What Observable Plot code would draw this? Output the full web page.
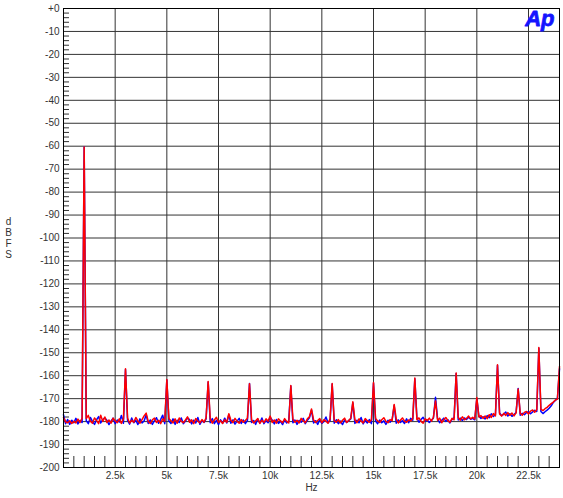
<!DOCTYPE html>
<html>
<head>
<meta charset="utf-8">
<script src="https://cdn.jsdelivr.net/npm/d3@7"></script>
<script src="https://cdn.jsdelivr.net/npm/@observablehq/plot@0.6"></script>
<style>
  html, body { margin: 0; padding: 0; background: #fff; }
</style>
</head>
<body>
<script>
// FFT bin spacing: 100 Hz, 0 … 24 kHz
const binStepHz = 100;
const maxHz = 24000;

// Channel A (blue), dBFS per 100 Hz bin
const blueDb = [
  -177.0,-180.9,-179.1,-181.2,-179.4,-180.5,-178.6,-181.0,-179.5,-180.4,
  -60.4,-179.6,-180.9,-178.2,-179.9,-181.2,-179.2,-177.8,-180.6,-179.1,
  -178.4,-179.4,-181.3,-179.8,-178.5,-180.9,-179.3,-180.2,-177.3,-180.7,
  -157.3,-179.5,-181.1,-178.4,-180.5,-179.4,-181.3,-178.8,-180.6,-179.7,
  -177.0,-180.8,-179.3,-181.2,-179.6,-178.3,-180.7,-179.1,-177.2,-180.9,
  -161.9,-179.7,-180.8,-178.8,-181.2,-179.4,-180.4,-178.4,-180.9,-179.8,
  -178.4,-179.1,-181.0,-179.4,-180.6,-178.2,-181.2,-179.6,-180.4,-178.8,
  -162.8,-180.5,-178.7,-180.9,-179.5,-181.3,-179.2,-180.7,-178.5,-180.6,
  -177.0,-180.7,-179.2,-181.1,-179.8,-178.6,-180.8,-179.3,-180.9,-179.5,
  -163.4,-180.4,-179.5,-181.2,-178.8,-180.6,-178.4,-180.9,-179.6,-180.5,
  -178.1,-179.4,-181.0,-179.1,-180.8,-179.8,-181.3,-179.2,-180.6,-179.6,
  -164.5,-180.5,-179.3,-181.2,-179.5,-180.3,-178.6,-180.9,-179.4,-178.3,
  -175.0,-180.6,-179.6,-181.2,-179.2,-180.8,-179.9,-178.0,-180.5,-179.5,
  -163.6,-180.7,-179.2,-180.9,-179.8,-181.3,-179.3,-180.4,-179.6,-178.8,
  -171.8,-180.8,-179.4,-180.5,-178.2,-181.0,-179.5,-180.6,-179.1,-180.9,
  -163.2,-179.8,-180.9,-179.3,-180.5,-179.7,-181.2,-179.4,-180.3,-179.2,
  -173.0,-180.7,-179.3,-180.4,-179.6,-180.8,-178.8,-180.5,-178.6,-179.4,
  -161.3,-178.5,-180.3,-179.1,-178.1,-179.8,-179.3,-180.4,-179.5,-178.4,
  -169.4,-178.7,-180.5,-179.4,-178.5,-179.9,-179.2,-180.6,-179.0,-178.3,
  -159.0,-179.3,-178.5,-179.5,-178.4,-179.1,-178.1,-179.0,-178.6,-179.2,
  -170.0,-177.7,-178.6,-177.9,-178.8,-177.4,-178.3,-176.6,-177.8,-177.0,
  -155.5,-176.2,-177.4,-176.8,-175.8,-177.6,-176.6,-177.7,-176.9,-176.0,
  -165.6,-177.2,-176.4,-177.0,-176.1,-175.7,-176.6,-175.8,-175.1,-175.6,
  -148.0,-175.6,-176.5,-175.7,-175.0,-174.2,-173.1,-171.6,-170.8,-169.8,
  -157.0
];

// Channel B (red), dBFS per 100 Hz bin
const redDb = [
  -178.3,-180.1,-180.5,-179.6,-180.8,-179.9,-180.6,-178.9,-180.4,-178.5,
  -60.3,-178.7,-177.3,-179.8,-180.7,-178.4,-179.5,-180.9,-177.2,-179.9,
  -178.0,-180.4,-179.3,-180.7,-178.5,-179.6,-180.5,-178.8,-180.8,-178.7,
  -157.0,-178.4,-180.6,-179.4,-180.3,-178.2,-179.7,-180.7,-179.1,-177.5,
  -176.3,-179.9,-180.8,-179.2,-178.5,-180.4,-179.4,-180.9,-178.8,-179.8,
  -161.7,-178.7,-179.6,-180.6,-178.8,-180.7,-178.4,-179.9,-180.5,-179.3,
  -177.9,-180.3,-179.2,-180.9,-178.7,-179.7,-180.6,-179.1,-180.3,-178.4,
  -162.5,-178.8,-180.7,-179.3,-178.1,-180.4,-179.6,-180.8,-179.2,-180.3,
  -176.6,-179.4,-180.5,-178.6,-179.9,-180.7,-179.1,-180.3,-179.5,-178.5,
  -163.5,-179.2,-180.6,-179.6,-178.7,-180.8,-179.4,-180.4,-178.8,-179.8,
  -177.6,-180.4,-179.3,-180.7,-178.8,-179.7,-180.5,-178.7,-179.9,-180.6,
  -164.3,-178.9,-180.3,-179.4,-180.6,-178.6,-179.6,-180.5,-178.8,-177.9,
  -174.5,-179.3,-180.4,-179.5,-178.7,-180.5,-179.2,-179.8,-180.7,-178.8,
  -163.4,-179.6,-180.3,-179.1,-180.6,-179.4,-178.5,-180.4,-179.5,-178.5,
  -171.4,-179.2,-180.5,-178.8,-179.8,-180.6,-178.7,-179.6,-180.3,-179.2,
  -163.0,-178.6,-179.7,-180.4,-179.2,-178.3,-179.9,-180.5,-179.1,-179.6,
  -172.5,-178.8,-180.6,-179.4,-178.4,-179.8,-180.3,-179.3,-179.7,-178.7,
  -161.0,-179.2,-178.4,-179.9,-180.7,-178.8,-179.5,-178.5,-179.8,-178.1,
  -171.0,-179.4,-178.5,-180.5,-179.1,-178.2,-179.6,-180.3,-178.6,-179.2,
  -158.8,-178.3,-179.4,-177.9,-179.2,-178.6,-177.6,-178.8,-178.1,-178.9,
  -169.5,-178.0,-177.4,-178.6,-177.6,-178.7,-177.0,-178.2,-176.5,-177.5,
  -155.2,-176.7,-177.6,-176.4,-177.3,-176.1,-177.2,-176.3,-177.5,-176.2,
  -165.8,-176.4,-177.2,-176.0,-175.6,-176.7,-175.4,-174.9,-175.9,-174.7,
  -147.7,-174.6,-175.2,-174.4,-173.8,-172.9,-172.2,-171.5,-170.6,-170.2,
  -156.0
];

// Axis ticks
const xMajorTicks = [2500, 5000, 7500, 10000, 12500, 15000, 17500, 20000, 22500];
const xTickLabels = ["2.5k", "5k", "7.5k", "10k", "12.5k", "15k", "17.5k", "20k", "22.5k"];
const xMinorTicks = [500,1000,1500,2000,3000,3500,4000,4500,5500,6000,6500,7000,8000,8500,9000,9500,
  10500,11000,11500,12000,13000,13500,14000,14500,15500,16000,16500,17000,18000,18500,19000,19500,
  20500,21000,21500,22000,23000,23500];
const yMajorTicks = [0,-10,-20,-30,-40,-50,-60,-70,-80,-90,-100,-110,-120,-130,-140,-150,-160,-170,-180,-190,-200];
const yMinorTicks = d3.range(-198, 0, 2).filter(v => v % 10 !== 0);

const binHz = blueDb.map((_, i) => i * binStepHz);
const blueData = blueDb.map((db, i) => ({hz: binHz[i], db}));
const redData = redDb.map((db, i) => ({hz: binHz[i], db}));

const W = 563, H = 498;
const mL = 63, mR = 4, mT = 8, mB = 31;
const plotW = W - mL - mR, plotH = H - mT - mB;

const chart = Plot.plot({
  width: W,
  height: H,
  marginLeft: mL,
  marginRight: mR,
  marginTop: mT,
  marginBottom: mB,
  style: {fontFamily: "'Liberation Sans', Arial, sans-serif", fontSize: "10px", color: "#333", background: "#fff"},
  x: {domain: [0, maxHz], axis: null},
  y: {domain: [-200, 0], axis: null},
  marks: [
    Plot.ruleX(xMajorTicks, {stroke: "#333", strokeWidth: 1}),
    Plot.ruleY(yMajorTicks.filter(v => v !== 0 && v !== -200), {stroke: "#333", strokeWidth: 1}),
    Plot.ruleY(yMinorTicks, {stroke: "#333", strokeWidth: 1, insetRight: plotW - 6}),
    Plot.ruleX(xMinorTicks, {stroke: "#333", strokeWidth: 1, insetTop: plotH - 11}),
    Plot.line(blueData, {x: "hz", y: "db", stroke: "#0000ff", strokeWidth: 1.5}),
    Plot.line(redData, {x: "hz", y: "db", stroke: "#ff0000", strokeWidth: 1.5}),
    Plot.frame({stroke: "#000", strokeWidth: 1}),
    Plot.axisY({
      ticks: yMajorTicks,
      tickSize: 0,
      tickPadding: 4,
      tickFormat: d => d === 0 ? "+0" : "-" + Math.abs(d),
      label: null,
      fill: "#333"
    }),
    Plot.axisX({
      ticks: xMajorTicks,
      tickSize: 0,
      tickPadding: 4,
      tickFormat: d => xTickLabels[xMajorTicks.indexOf(d)],
      label: null,
      fill: "#333"
    }),
    Plot.text(["Hz"], {frameAnchor: "bottom", dy: 23, fill: "#333", fontSize: 10}),
    Plot.text(["d\nB\nF\nS"], {frameAnchor: "left", dx: -55, dy: 0, fill: "#333", fontSize: 10, lineHeight: 1.1, textAnchor: "middle"}),
    Plot.text(["Ap"], {frameAnchor: "top-right", dx: -5, dy: 2, fill: "#1414ff", stroke: "#1414ff", strokeWidth: 0.8, fontSize: 22, fontWeight: "bold", fontStyle: "italic"})
  ]
});

document.body.appendChild(chart);
</script>
</body>
</html>
